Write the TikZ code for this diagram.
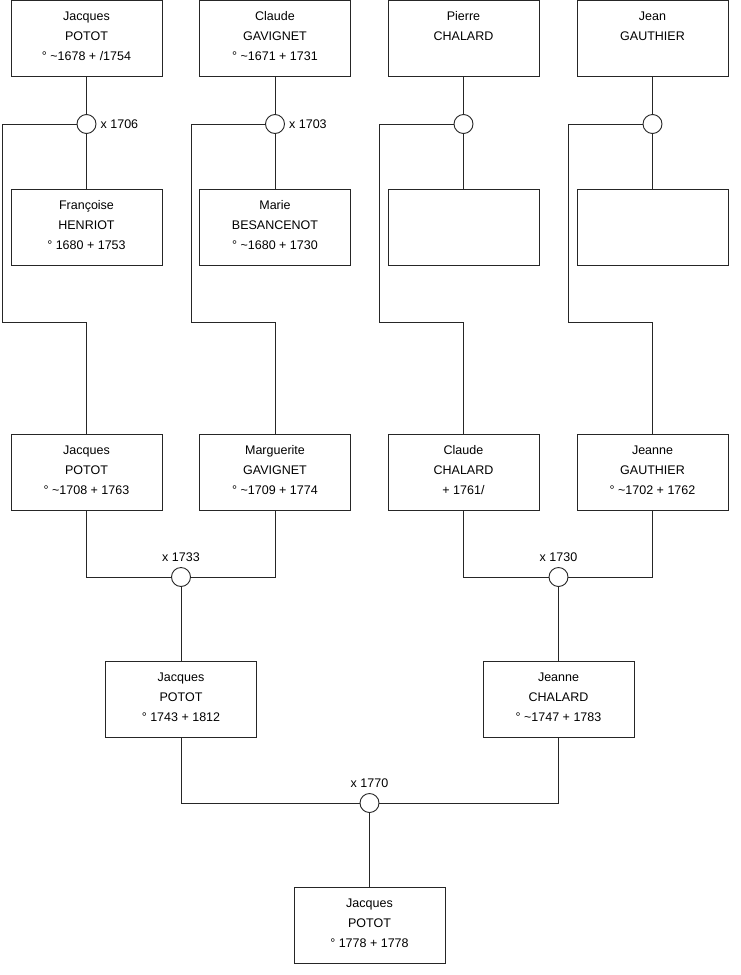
\documentclass[tikz,border=0pt]{standalone}
\usepackage{fontspec}
\setmainfont{Liberation Sans}
\begin{document}
\begin{tikzpicture}[x=1pt,y=-1pt,
  person/.style={draw=black!85, line width=0.9pt, fill=white, minimum width=151pt, minimum height=76pt, align=center, inner sep=0pt, text depth=4.5pt, font=\fontsize{12.5}{20}\selectfont},
  union/.style={draw=black!85, line width=0.9pt, fill=white, circle, minimum size=19pt, inner sep=0pt},
  link/.style={draw=black!85, line width=0.9pt},
  datelbl/.style={inner sep=1pt, font=\fontsize{12.5}{14}\selectfont}]
\useasboundingbox (0,0) rectangle (740,975);
% generation 1
\node[person] (a1) at (86.5,38) {Jacques\\POTOT\\° \textasciitilde1678 + /1754};
\node[person] (a2) at (275,38) {Claude\\GAVIGNET\\° \textasciitilde1671 + 1731};
\node[person] (a3) at (463.5,38) {Pierre\\CHALARD\\\phantom{1}};
\node[person] (a4) at (652.5,38) {Jean\\GAUTHIER\\\phantom{1}};
% generation 1 spouses
\node[person] (b1) at (86.5,227) {Françoise\\HENRIOT\\° 1680 + 1753};
\node[person] (b2) at (275,227) {Marie\\BESANCENOT\\° \textasciitilde1680 + 1730};
\node[person] (b3) at (463.5,227) {};
\node[person] (b4) at (652.5,227) {};
% unions generation 1
\node[union] (u1) at (86.5,124) {};
\node[union] (u2) at (275,124) {};
\node[union] (u3) at (463.5,124) {};
\node[union] (u4) at (652.5,124) {};
\node[datelbl, anchor=west] at ([xshift=3pt]u1.east) {x 1706};
\node[datelbl, anchor=west] at ([xshift=3pt]u2.east) {x 1703};
% generation 2
\node[person] (p1) at (86.5,472) {Jacques\\POTOT\\° \textasciitilde1708 + 1763};
\node[person] (p2) at (275,472) {Marguerite\\GAVIGNET\\° \textasciitilde1709 + 1774};
\node[person] (p3) at (463.5,472) {Claude\\CHALARD\\+ 1761/};
\node[person] (p4) at (652.5,472) {Jeanne\\GAUTHIER\\° \textasciitilde1702 + 1762};
% bends
\coordinate (k1) at (2,322);
\coordinate (k2) at (191,322);
\coordinate (k3) at (379,322);
\coordinate (k4) at (568.5,322);
% links generation 1
\foreach \i in {1,2,3,4}{
  \draw[link] (a\i.south) -- (u\i.north);
  \draw[link] (u\i.south) -- (b\i.north);
  \draw[link] (u\i.west) -| (k\i) -| (p\i.north);
}
% unions generation 2
\node[union] (m1) at (181,577) {};
\node[union] (m2) at (558.5,577) {};
\node[datelbl, anchor=south] at ([yshift=4pt]m1.north) {x 1733};
\node[datelbl, anchor=south] at ([yshift=4pt]m2.north) {x 1730};
\draw[link] (p1.south) |- (m1.west);
\draw[link] (p2.south) |- (m1.east);
\draw[link] (p3.south) |- (m2.west);
\draw[link] (p4.south) |- (m2.east);
% generation 3
\node[person] (q1) at (181,699) {Jacques\\POTOT\\° 1743 + 1812};
\node[person] (q2) at (558.5,699) {Jeanne\\CHALARD\\° \textasciitilde1747 + 1783};
\draw[link] (m1.south) -- (q1.north);
\draw[link] (m2.south) -- (q2.north);
% union generation 3
\node[union] (n1) at (369.5,803) {};
\node[datelbl, anchor=south] at ([yshift=4pt]n1.north) {x 1770};
\draw[link] (q1.south) |- (n1.west);
\draw[link] (q2.south) |- (n1.east);
% generation 4
\node[person] (r1) at (369.5,925) {Jacques\\POTOT\\° 1778 + 1778};
\draw[link] (n1.south) -- (r1.north);
\end{tikzpicture}
\end{document}
